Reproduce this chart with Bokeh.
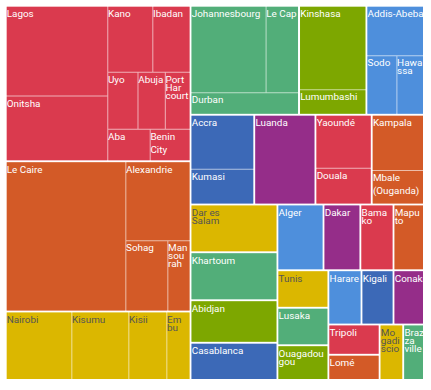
from bokeh.plotting import figure
from bokeh.models import Range1d, ColumnDataSource
from bokeh.core.properties import value
from bokeh.embed import file_html
from bokeh.resources import INLINE

# ---- data (original order; colours cycle through the palette) ----
countries = ["Nigeria", "Égypte", "Kenya", "Afrique du Sud", "RD Congo", "Éthiopie",
             "Ghana", "Angola", "Cameroun", "Ouganda", "Tanzanie", "Soudan",
             "Côte d'Ivoire", "Algérie", "Maroc", "Sénégal", "Mali", "Mozambique",
             "Tunisie", "Zambie", "Burkina Faso", "Zimbabwe", "Rwanda", "Guinée",
             "Libye", "Togo", "Somalie", "Congo"]

cities = ["Lagos", "Onitsha", "Kano", "Ibadan", "Uyo", "Abuja", "Port Harcourt", "Aba", "Benin City",
          "Le Caire", "Alexandrie", "Sohag", "Mansourah",
          "Nairobi", "Kisumu", "Kisii", "Embu",
          "Johannesbourg", "Le Cap", "Durban",
          "Kinshasa", "Lumumbashi",
          "Addis-Abeba", "Sodo", "Hawassa",
          "Accra", "Kumasi",
          "Luanda",
          "Yaoundé", "Douala",
          "Kampala", "Mbale (Ouganda)",
          "Dar es Salam", "Khartoum", "Abidjan", "Alger", "Casablanca", "Dakar",
          "Bamako", "Maputo", "Tunis", "Lusaka", "Ouagadougou", "Harare", "Kigali",
          "Conakry", "Tripoli", "Lomé", "Mogadiscio", "Brazzaville"]

city_country = ["Nigeria"] * 9 + ["Égypte"] * 4 + ["Kenya"] * 4 + ["Afrique du Sud"] * 3 + \
               ["RD Congo"] * 2 + ["Éthiopie"] * 3 + ["Ghana"] * 2 + ["Angola"] + \
               ["Cameroun"] * 2 + ["Ouganda"] * 2 + \
               ["Tanzanie", "Soudan", "Côte d'Ivoire", "Algérie", "Maroc", "Sénégal",
                "Mali", "Mozambique", "Tunisie", "Zambie", "Burkina Faso", "Zimbabwe",
                "Rwanda", "Guinée", "Libye", "Togo", "Somalie", "Congo"]

city_values = [9290, 6660, 3036, 2476, 1766, 1597, 1416, 1343, 1245,
               18117, 5120, 3003, 1551,
               4562, 3982, 2654, 1586,
               6673, 2858, 2328,
               5715, 1652,
               2908, 1810, 1633,
               3486, 2224,
               5484,
               3022, 2022,
               2959, 1772,
               4165, 4160, 3702, 3033, 3276, 2425,
               2181, 2040, 1912, 1909, 1801, 1798, 1738,
               1683, 1545, 1325, 1322, 1193]

palette = ["#DA3A4E", "#D35A27", "#DBB700", "#52AE79", "#7DA700", "#4E8FDC", "#3C69B7", "#952D89"]

tight_labels = {"Port Harcourt": "Port\nHar\ncourt", "Mansourah": "Man\nsou\nrah", "Embu": "Em\nbu",
                "Hawassa": "Hawa\nssa", "Dar es Salam": "Dar es\nSalam", "Bamako": "Bama\nko",
                "Maputo": "Mapu\nto", "Ouagadougou": "Ouagadou\ngou", "Mogadiscio": "Mo\ngadi\nscio",
                "Brazzaville": "Braz\nza\nville"}
loose_labels = {"Benin City": "Benin\nCity", "Mbale (Ouganda)": "Mbale\n(Ouganda)"}

W, H = 417, 373
PHI = (1 + 5 ** 0.5) / 2


def squarify(vals, x0, y0, x1, y1, ratio=PHI):
    n = len(vals)
    rects = [None] * n
    total = float(sum(vals))
    i0 = 0
    while i0 < n:
        dx, dy = x1 - x0, y1 - y0
        i1 = i0
        s = vals[i1]
        i1 += 1
        mn = mx = s
        alpha = max(dy / dx, dx / dy) / (total * ratio)
        beta = s * s * alpha
        best = max(mx / beta, beta / mn)
        while i1 < n:
            v = vals[i1]
            s2 = s + v
            mn2, mx2 = min(mn, v), max(mx, v)
            beta = s2 * s2 * alpha
            r = max(mx2 / beta, beta / mn2)
            if r > best:
                break
            s, mn, mx, best = s2, mn2, mx2, r
            i1 += 1
        if dx < dy:
            yb = y0 + dy * s / total
            x = x0
            for i in range(i0, i1):
                w = (x1 - x0) * vals[i] / s
                rects[i] = (x, y0, x + w, yb)
                x += w
            y0 = yb
        else:
            xb = x0 + dx * s / total
            y = y0
            for i in range(i0, i1):
                h = (y1 - y0) * vals[i] / s
                rects[i] = (x0, y, xb, y + h)
                y += h
            x0 = xb
        total -= s
        i0 = i1
    return rects


# group totals and layout (sorted by value)
totals = [sum(v for v, c in zip(city_values, city_country) if c == k) for k in countries]
order = sorted(range(len(countries)), key=lambda i: -totals[i])
grects = squarify([totals[i] for i in order], -1, -1, W + 1, H + 1)

g = dict(l=[], r=[], t=[], b=[], c=[])
cl = dict(l=[], r=[], t=[], b=[], c=[])
labs = {"tight": dict(x=[], y=[], s=[], c=[]), "loose": dict(x=[], y=[], s=[], c=[]),
        "single": dict(x=[], y=[], s=[], c=[])}

for k, gi in enumerate(order):
    gx0, gy0, gx1, gy1 = grects[k]
    gx0, gy0, gx1, gy1 = gx0 + 1, gy0 + 1, gx1 - 1, gy1 - 1
    col = palette[gi % len(palette)]
    g["l"].append(gx0); g["r"].append(gx1); g["t"].append(gy0); g["b"].append(gy1); g["c"].append(col)
    idx = [j for j, c in enumerate(city_country) if c == countries[gi]]
    idx.sort(key=lambda j: -city_values[j])
    crects = squarify([city_values[j] for j in idx], gx0, gy0, gx1, gy1)
    tcol = "#555555" if col == "#DBB700" else "#FFFFFF"
    for j, (x0, y0, x1, y1) in zip(idx, crects):
        lx0 = x0 + (0.5 if abs(x0 - gx0) > 0.01 else 0)
        lx1 = x1 - (0.5 if abs(x1 - gx1) > 0.01 else 0)
        ly0 = y0 + (0.5 if abs(y0 - gy0) > 0.01 else 0)
        ly1 = y1 - (0.5 if abs(y1 - gy1) > 0.01 else 0)
        cl["l"].append(lx0); cl["r"].append(lx1); cl["t"].append(ly0); cl["b"].append(ly1); cl["c"].append(col)
        name = cities[j]
        if name in tight_labels:
            d, s = labs["tight"], tight_labels[name]
        elif name in loose_labels:
            d, s = labs["loose"], loose_labels[name]
        else:
            d, s = labs["single"], name
        d["x"].append(x0 + 0.2); d["y"].append(y0 + 1.5); d["s"].append(s); d["c"].append(tcol)

p = figure(width=W, height=H, output_backend="svg", toolbar_location=None,
           x_axis_type=None, y_axis_type=None, min_border=0,
           x_range=Range1d(0, W), y_range=Range1d(H, 0))
p.outline_line_color = None
p.background_fill_color = "white"
p.border_fill_color = "white"
p.grid.visible = False
p.styles = {"margin-left": "6px", "margin-top": "6px"}

p.quad(left="l", right="r", top="t", bottom="b", fill_color="c", fill_alpha=0.4,
       line_color=None, source=ColumnDataSource(g))
p.quad(left="l", right="r", top="t", bottom="b", fill_color="c", line_color=None,
       source=ColumnDataSource(cl))

for key, lh in (("single", 1.2), ("tight", 0.72), ("loose", 1.15)):
    p.text(x="x", y="y", text="s", text_color="c", source=ColumnDataSource(labs[key]),
           text_font=value("Roboto"), text_font_size="9.9px", text_align="left",
           text_baseline="top", text_line_height=lh)

open("out.html", "w").write(file_html(p, INLINE))
